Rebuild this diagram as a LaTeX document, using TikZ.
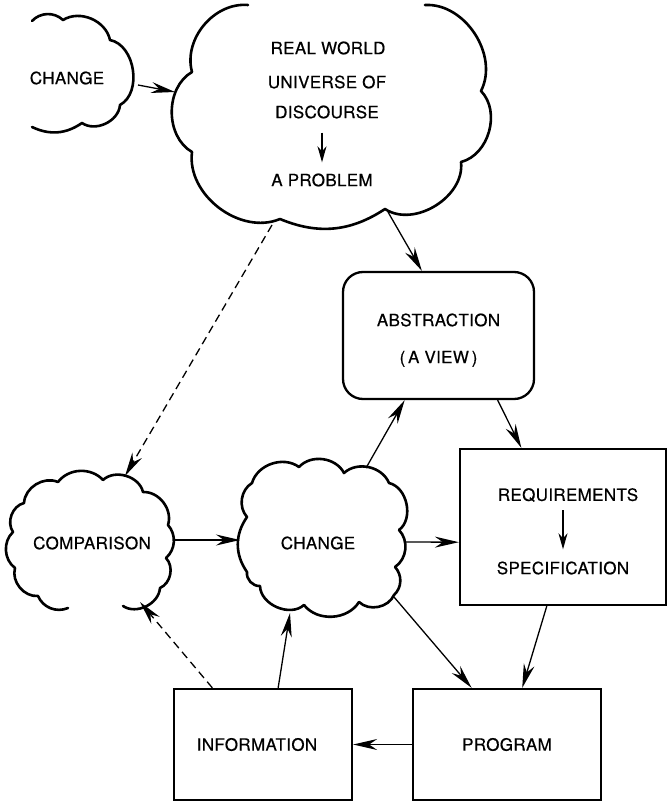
\documentclass[tikz,border=0pt]{standalone}
\usepackage{fontspec}
\setmainfont{TeX Gyre Heros}[FakeBold=0.5, LetterSpace=2]
\usetikzlibrary{arrows.meta,calc}
\begin{document}
\begin{tikzpicture}[x=1pt,y=1pt,
  cloudline/.style={line width=2.6pt, line join=round, line cap=round},
  box/.style={draw, line width=2.3pt, inner sep=0pt, align=center, font=\fontsize{17}{37}\selectfont},
  lbl/.style={inner sep=0pt, font=\fontsize{17}{20}\selectfont},
  conn/.style={line width=1.3pt, -{Stealth[length=24pt,width=11pt,inset=8pt]}},
  dconn/.style={conn, dash pattern=on 8pt off 5pt},
  tconn/.style={line width=1.5pt, -{Stealth[length=16pt,width=9pt,inset=5pt]}},
]
\useasboundingbox (0,0) rectangle (668,-802);

% ---- clouds ----
% small CHANGE cloud (open on the left)
\draw[cloudline] (32,-21) to[bend left=45] (63,-20) to[bend left=55] (110,-40)
  to[bend left=70] (120,-105) to[bend left=60] (82,-123) to[bend left=30] (32,-127);
% big REAL WORLD cloud (open at the top)
\draw[cloudline] (425,-5) to[bend left=60] (481,-91) to[bend left=60] (461,-162)
  to[bend left=65] (385,-209) to[bend left=28] (280,-219) to[bend left=60] (192,-152)
  to[bend left=60] (192,-72) to[bend left=55] (248,-5);
% COMPARISON cloud (open at the bottom)
\draw[cloudline] (68,-608) to[bend left=45] (38,-596) to[bend left=55] (15,-568)
  to[bend left=50] (13,-532) to[bend left=55] (24,-503) to[bend left=55] (58,-482)
  to[bend left=50] (103,-480) to[bend left=60] (143,-492) to[bend left=55] (168,-525)
  to[bend left=45] (166,-558) to[bend left=55] (160,-588) to[bend left=60] (123,-606);
% middle CHANGE cloud
\draw[cloudline] (299,-467) to[bend left=55] (344,-473) to[bend left=55] (389,-483)
  to[bend left=65] (399,-530) to[bend left=50] (395,-567) to[bend left=45] (394,-595)
  to[bend left=55] (359,-602) to[bend left=55] (304,-605) to[bend left=65] (260,-586)
  to[bend left=50] (247,-572) to[bend left=35] (247,-517) to[bend left=50] (252,-483)
  to[bend left=55] cycle;

% cloud connection points
\coordinate (sc-e) at (138,-85);
\coordinate (bc-w) at (175,-92);
\coordinate (bc-s1) at (388,-212);
\coordinate (bc-s2) at (272,-225);
\coordinate (cmp-n) at (125,-476);
\coordinate (cmp-e) at (175,-540);
\coordinate (cmp-se) at (140,-602);
\coordinate (chg-w) at (240,-540);
\coordinate (chg-ne) at (366,-468);
\coordinate (chg-e) at (405,-542);
\coordinate (chg-se) at (394,-597);
\coordinate (chg-s) at (290,-613);

% ---- cloud texts ----
\node[lbl] (sct) at (67,-78) {CHANGE};
\node[lbl] (rw) at (328,-48) {REAL WORLD};
\node[lbl] (uo) at (327,-82) {UNIVERSE OF};
\node[lbl] (disc) at (327,-112) {DISCOURSE};
\node[lbl] (prob) at (322,-180) {A PROBLEM};
\node[lbl] (cmpt) at (92,-543) {COMPARISON};
\node[lbl] (chgt) at (318,-543) {CHANGE};

% ---- boxes ----
\node[box, minimum width=191pt, minimum height=127pt, rounded corners=20pt] (abs) at (438.5,-335.5) {\mbox{}\\[-15pt]ABSTRACTION\\(\,A VIEW\,)};
\node[box, minimum width=206pt, minimum height=156pt] (req) at (563,-527) {};
\node[lbl] (reqt) at (568,-495) {REQUIREMENTS};
\node[lbl] (spec) at (563,-568) {SPECIFICATION};
\node[box, minimum width=178pt, minimum height=111pt] (info) at (263,-744.5) {INFORMATION\hspace*{12pt}};
\node[box, minimum width=188pt, minimum height=111pt] (prog) at (507,-744.5) {PROGRAM};

% ---- inner arrows ----
\draw[tconn, shorten <=14pt, shorten >=11pt] (prob.north |- disc.south) -- (prob.north);
\draw[tconn, shorten <=8pt, shorten >=12pt] (spec.north |- reqt.south) -- (spec.north);

% ---- connectors ----
\draw[conn] (sc-e) -- (bc-w);
\draw[conn] (bc-s1) -- ($(abs.north west)!0.414!(abs.north east)$);
\draw[dconn] (bc-s2) -- (cmp-n);
\draw[conn] (cmp-e) -- (chg-w);
\draw[conn] (chg-ne) -- ($(abs.south west)!0.325!(abs.south east)$);
\draw[conn] ($(abs.south west)!0.806!(abs.south east)$) -- ($(req.north west)!0.30!(req.north east)$);
\draw[conn] (chg-e) -- ($(req.north west)!0.596!(req.south west)$);
\draw[conn] ($(req.south west)!0.422!(req.south east)$) -- ($(prog.north west)!0.58!(prog.north east)$);
\draw[conn] (chg-se) -- ($(prog.north west)!0.314!(prog.north east)$);
\draw[conn] (prog.west) -- (info.east);
\draw[conn] ($(info.north west)!0.584!(info.north east)$) -- (chg-s);
\draw[dconn] ($(info.north west)!0.219!(info.north east)$) -- (cmp-se);
\end{tikzpicture}
\end{document}
